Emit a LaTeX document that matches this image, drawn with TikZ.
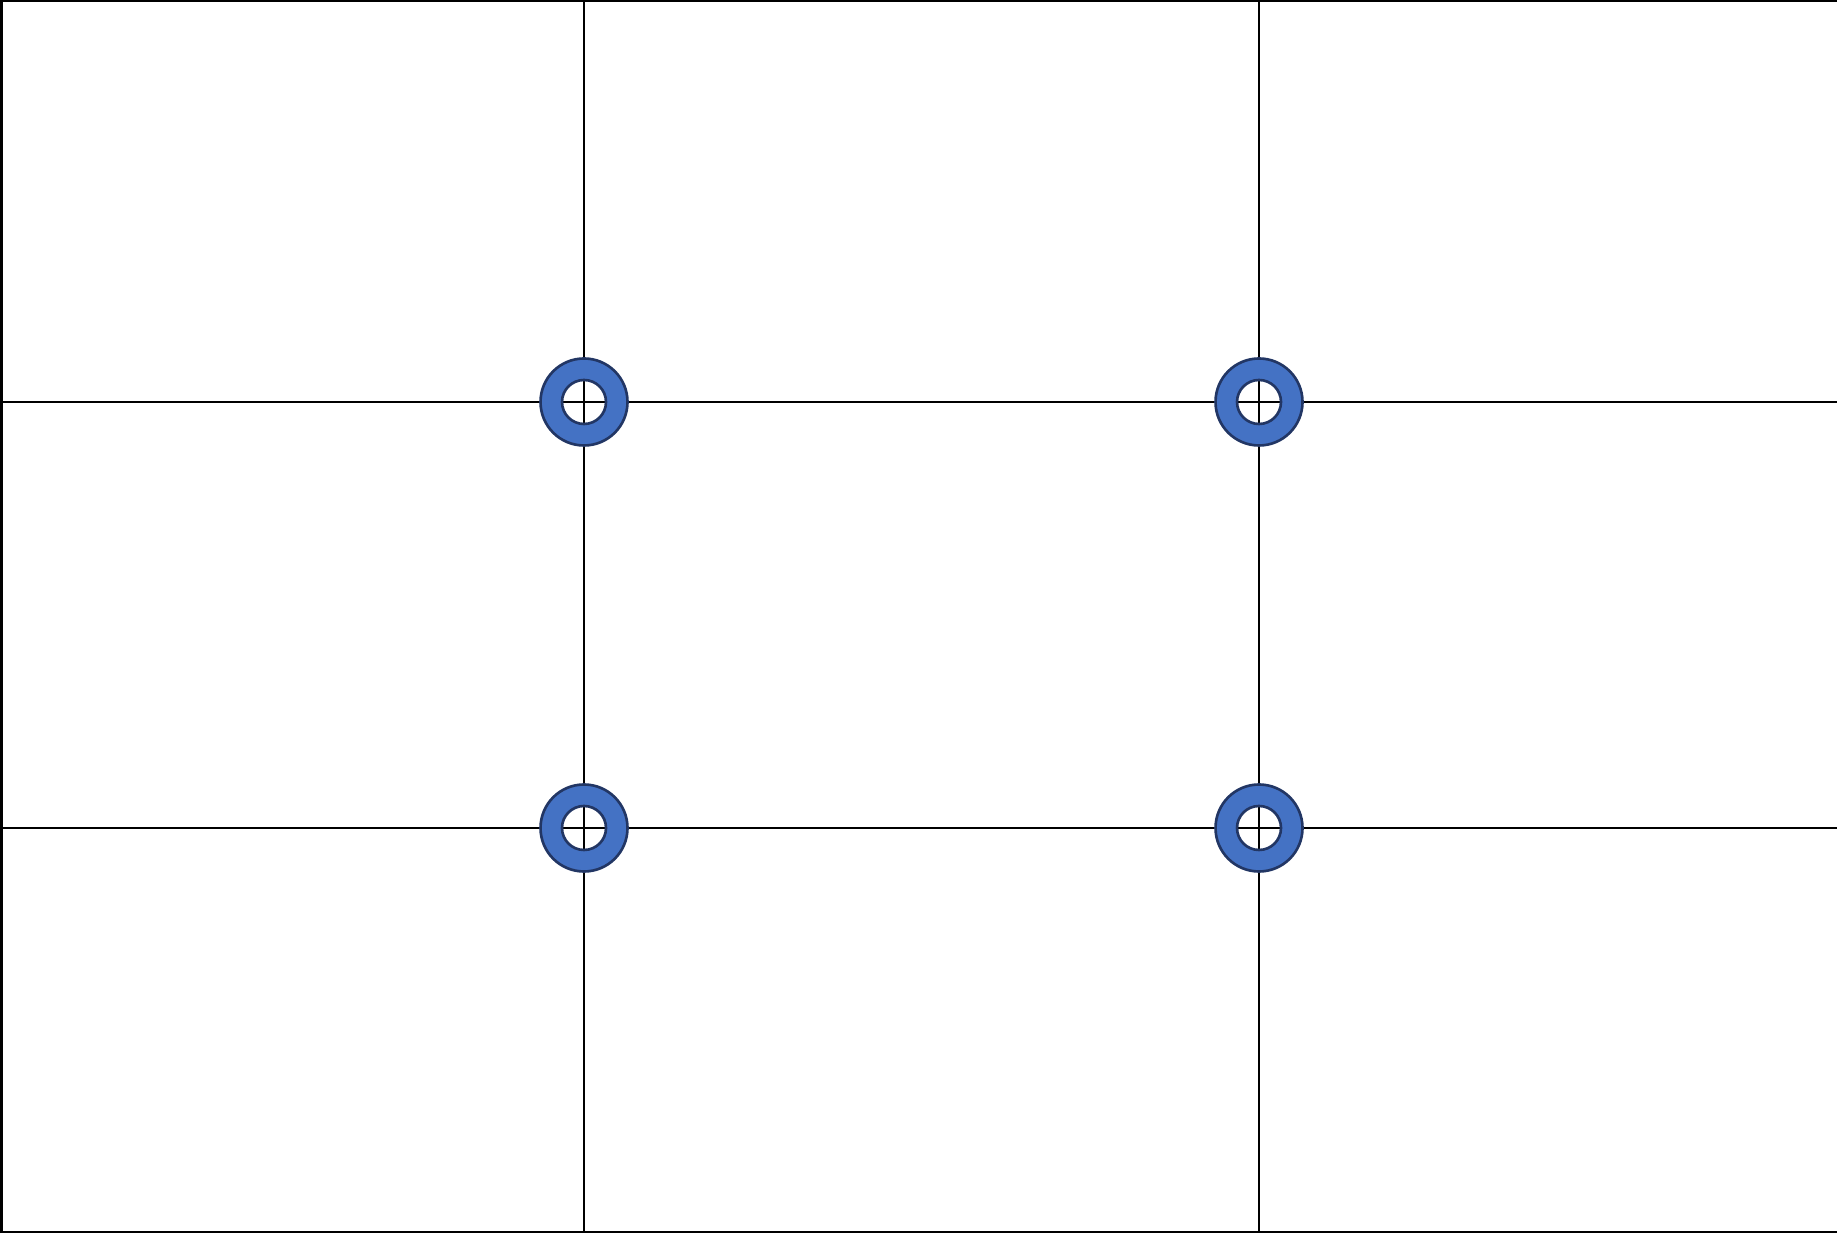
\documentclass[tikz,border=0pt]{standalone}
\usepackage{tikz}
\usetikzlibrary{positioning}
\usepackage{xcolor}
\definecolor{ringfill}{RGB}{68,114,196}
\definecolor{ringedge}{RGB}{34,54,100}

\begin{document}
\begin{tikzpicture}[
  gridline/.style={line width=0.55pt, black},
  ring/.style={fill=ringfill, draw=ringedge, line width=0.75pt, even odd rule}]
  \useasboundingbox (0,0) rectangle (18.37,12.33);

  % frame (left, top, bottom)
  \coordinate (tl) at (0,12.33);
  \coordinate (tr) at (18.37,12.33);
  \coordinate (bl) at (0,0);
  \coordinate (br) at (18.37,0);
  \draw[line width=0.85pt] ([xshift=0.015cm]bl) -- ([xshift=0.015cm]tl);
  \draw[line width=0.6pt] ([yshift=-0.01cm]tl) -- ([yshift=-0.01cm]tr);
  \draw[line width=0.6pt] ([yshift=0.01cm]bl) -- ([yshift=0.01cm]br);

  % thirds
  \coordinate (ua) at (5.84,8.31);
  \coordinate (ub) at (12.59,8.31);
  \coordinate (la) at (5.84,4.05);
  \coordinate (lb) at (12.59,4.05);
  \draw[gridline] (ua |- tl) -- (ua |- bl);
  \draw[gridline] (ub |- tl) -- (ub |- bl);
  \draw[gridline] (ua -| tl) -- (ua -| tr);
  \draw[gridline] (la -| tl) -- (la -| tr);

  % power points
  \foreach \p in {ua,ub,la,lb}
    \draw[ring] (\p) circle[radius=0.435] (\p) circle[radius=0.22];
\end{tikzpicture}
\end{document}
